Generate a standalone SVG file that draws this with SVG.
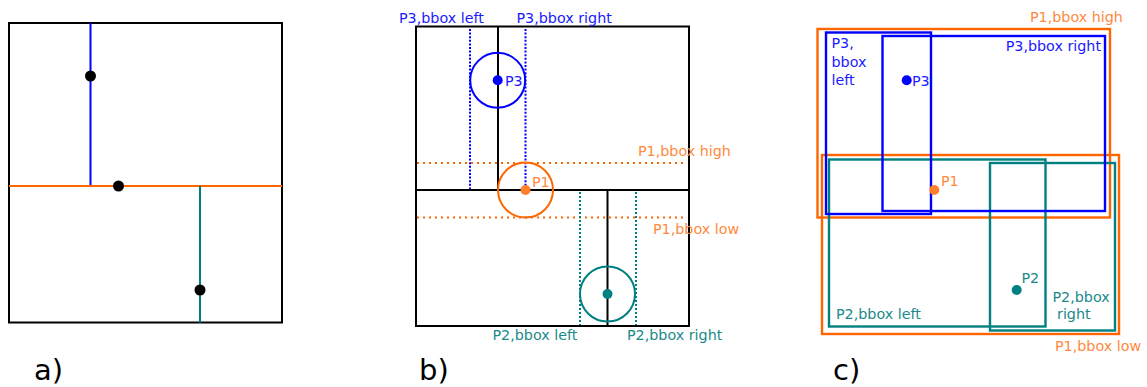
<svg xmlns="http://www.w3.org/2000/svg" width="1147" height="387" viewBox="0 0 1147 387">
<style>
.frame{fill:none;stroke:#000;stroke-width:2}
.blk{stroke:#000;stroke-width:2;fill:none}
.bl{stroke:#0000ff;stroke-width:2;fill:none}
.or{stroke:#ff6600;stroke-width:2;fill:none}
.tl{stroke:#008080;stroke-width:2;fill:none}
.bld{stroke:#0000ff;stroke-width:2;stroke-dasharray:2 1.6;fill:none}
.ord{stroke:#ff6600;stroke-width:2;stroke-dasharray:2 4;fill:none}
.tld{stroke:#008080;stroke-width:2;stroke-dasharray:2 2;fill:none}
.rc{stroke-width:2.4;fill:none}
text{font-family:"DejaVu Sans",sans-serif;font-size:14.3px}
.tb{fill:#1a1aff}
.to{fill:#ff8a3d}
.tt{fill:#1a8a8a}
.big{font-size:29px;fill:#000}
</style>

<!-- Panel a -->
<g id="panel-a">
  <rect class="frame" x="9" y="23" width="273" height="299.5"/>
  <g id="a-connectors">
    <line class="bl" x1="90.5" y1="23" x2="90.5" y2="186"/>
    <line class="or" x1="9" y1="186" x2="282" y2="186"/>
    <line class="tl" x1="200" y1="186" x2="200" y2="322.5"/>
  </g>
  <g id="a-p3"><circle cx="90.5" cy="76" r="5.5" fill="#000"/></g>
  <g id="a-p1"><circle cx="118.5" cy="186" r="5.5" fill="#000"/></g>
  <g id="a-p2"><circle cx="200" cy="290" r="5.5" fill="#000"/></g>
  <text class="big" x="34" y="380">a)</text>
</g>

<!-- Panel b -->
<g id="panel-b">
  <rect class="frame" x="416" y="26.5" width="273" height="299.5"/>
  <g id="b-connectors">
    <line class="blk" x1="498" y1="26.5" x2="498" y2="190"/>
    <line class="blk" x1="416" y1="190" x2="689" y2="190"/>
    <line class="blk" x1="607.5" y1="190" x2="607.5" y2="326"/>
    <line class="bld" x1="470" y1="29" x2="470" y2="189"/>
    <line class="bld" x1="525.5" y1="29" x2="525.5" y2="189"/>
    <line class="ord" x1="417" y1="163" x2="687" y2="163"/>
    <line class="ord" x1="417" y1="217.5" x2="687" y2="217.5"/>
    <line class="tld" x1="580" y1="192" x2="580" y2="325"/>
    <line class="tld" x1="636" y1="192" x2="636" y2="325"/>
  </g>
  <g id="b-p3">
    <circle class="bl" cx="497.7" cy="80.3" r="27.5"/>
    <circle cx="497.7" cy="80.3" r="5" fill="#0000ff"/>
    <text class="tb" x="505" y="86">P3</text>
  </g>
  <g id="b-p1">
    <circle class="or" cx="525.5" cy="190" r="27.5"/>
    <circle cx="525.5" cy="190" r="5" fill="#ff7f2a"/>
    <text class="to" x="532" y="187">P1</text>
  </g>
  <g id="b-p2">
    <circle class="tl" cx="607.5" cy="294" r="27.5"/>
    <circle cx="607.5" cy="294" r="5" fill="#008080"/>
  </g>
  <text class="tb" x="399" y="23">P3,bbox left</text>
  <text class="tb" x="516.5" y="23">P3,bbox right</text>
  <text class="to" x="638" y="156">P1,bbox high</text>
  <text class="to" x="653" y="234">P1,bbox low</text>
  <text class="tt" x="492.5" y="340">P2,bbox left</text>
  <text class="tt" x="627" y="340">P2,bbox right</text>
  <text class="big" x="419" y="380">b)</text>
</g>

<!-- Panel c -->
<g id="panel-c">
  <g id="c-p1-bbox-high"><rect class="rc" stroke="#ff6600" x="817.5" y="29" width="292.5" height="188.5"/>
    <text class="to" x="1030" y="21.5">P1,bbox high</text></g>
  <g id="c-p1-bbox-low"><rect class="rc" stroke="#ff6600" x="822" y="155" width="297" height="179"/>
    <text class="to" x="1055" y="350.5">P1,bbox low</text></g>
  <g id="c-p2-bbox-left"><rect class="rc" stroke="#008080" x="829" y="159.5" width="216.5" height="167"/>
    <text class="tt" x="836" y="318.5">P2,bbox left</text></g>
  <g id="c-p2-bbox-right"><rect class="rc" stroke="#008080" x="990" y="163" width="125" height="167.5"/>
    <text class="tt" x="1052.5" y="301.5">P2,bbox</text>
    <text class="tt" x="1057" y="319">right</text></g>
  <g id="c-p3-bbox-left"><rect class="rc" stroke="#0000ff" x="826" y="32.5" width="105" height="181.5"/>
    <text class="tb" x="831.5" y="48">P3,</text>
    <text class="tb" x="831.5" y="66.5">bbox</text>
    <text class="tb" x="831.5" y="85">left</text></g>
  <g id="c-p3-bbox-right"><rect class="rc" stroke="#0000ff" x="882.5" y="36" width="222.5" height="175"/>
    <text class="tb" x="1101" y="50.5" text-anchor="end">P3,bbox right</text></g>
  <g id="c-p3"><circle cx="906.7" cy="80.3" r="5" fill="#0000ff"/>
    <text class="tb" x="912" y="86">P3</text></g>
  <g id="c-p1"><circle cx="934.3" cy="190" r="5" fill="#ff7f2a"/>
    <text class="to" x="941" y="186">P1</text></g>
  <g id="c-p2"><circle cx="1016.7" cy="290" r="5" fill="#008080"/>
    <text class="tt" x="1021.5" y="282.5">P2</text></g>
  <text class="big" x="833" y="380">c)</text>
</g>
</svg>
